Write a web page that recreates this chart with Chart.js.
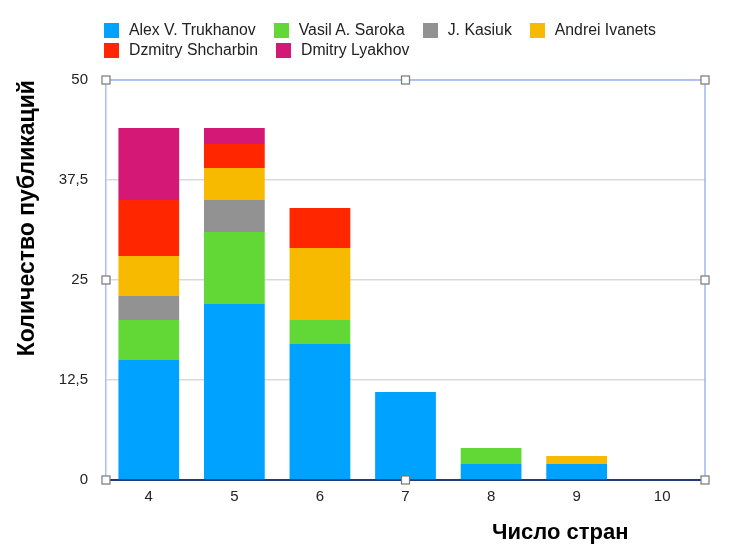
<!DOCTYPE html>
<html>
<head>
<meta charset="utf-8">
<script src="https://cdn.jsdelivr.net/npm/chart.js@4.4.0/dist/chart.umd.min.js"></script>
<style>
  body { margin: 0; background: #fff; }
  #wrap { position: relative; width: 736px; height: 556px; font-family: "Liberation Sans", Arial, sans-serif; }
  #legenda { position: absolute; left: 104px; top: 20px; width: 600px; display: flex; flex-wrap: wrap; }
  .item { display: flex; align-items: center; height: 20px; margin-right: 18px; font-size: 15.8px; color: #222; white-space: nowrap; }
  .item span.caixa { width: 15px; height: 15px; margin-right: 10px; }
  #titulo-x { position: absolute; left: 492px; top: 519px; font-size: 22px; font-weight: bold; line-height: 26px; color: #000; }
</style>
</head>
<body>
<div id="wrap">
  <canvas id="grafico-paises" width="736" height="556"></canvas>
  <div id="legenda"></div>
  <div id="titulo-x">Число стран</div>
</div>
<script>
// Categorias (número de países) e valores por autor
const paises = ['4', '5', '6', '7', '8', '9', '10'];
const autores = ['Alex V. Trukhanov', 'Vasil A. Saroka', 'J. Kasiuk', 'Andrei Ivanets', 'Dzmitry Shcharbin', 'Dmitry Lyakhov'];
const trukhanov = [15, 22, 17, 11, 2, 2, 0];
const saroka = [5, 9, 3, 0, 2, 0, 0];
const kasiuk = [3, 4, 0, 0, 0, 0, 0];
const ivanets = [5, 4, 9, 0, 0, 1, 0];
const shcharbin = [7, 3, 5, 0, 0, 0, 0];
const lyakhov = [9, 2, 0, 0, 0, 0, 0];
const ticksY = ['0', '12,5', '25', '37,5', '50']; // rótulos do eixo Y (vírgula decimal)

const cores = ['#00A2FF', '#61D836', '#929292', '#F8BA00', '#FF2600', '#D31876'];
const series = [trukhanov, saroka, kasiuk, ivanets, shcharbin, lyakhov];

// Moldura azul e "alças" de seleção em volta da área do gráfico
const moldura = {
  id: 'moldura',
  afterDraw(chart) {
    const { ctx, chartArea: a } = chart;
    ctx.save();
    ctx.strokeStyle = '#9DB8F5';
    ctx.lineWidth = 1.5;
    ctx.beginPath();
    ctx.moveTo(a.left, a.top);
    ctx.lineTo(a.right, a.top);
    ctx.lineTo(a.right, a.bottom);
    ctx.stroke();
    const mx = (a.left + a.right) / 2, my = (a.top + a.bottom) / 2;
    const pts = [[a.left, a.top], [mx, a.top], [a.right, a.top], [a.left, my], [a.right, my], [a.left, a.bottom], [mx, a.bottom], [a.right, a.bottom]];
    ctx.fillStyle = '#fff';
    ctx.strokeStyle = '#777';
    ctx.lineWidth = 1.2;
    pts.forEach(([x, y]) => {
      ctx.fillRect(x - 4, y - 4, 8, 8);
      ctx.strokeRect(x - 4, y - 4, 8, 8);
    });
    ctx.restore();
  }
};

const grafico = document.getElementById('grafico-paises');

new Chart(grafico, {
  type: 'bar',
  data: {
    labels: paises,
    datasets: autores.map((nome, i) => ({
      label: nome,
      data: series[i],
      backgroundColor: cores[i],
      borderWidth: 0,
      categoryPercentage: 1,
      barPercentage: 0.71
    }))
  },
  options: {
    responsive: false,
    animation: false,
    layout: { padding: { top: 80, left: 10, right: 31, bottom: 0 } },
    plugins: {
      legend: { display: false },
      tooltip: { enabled: false }
    },
    font: { family: '"Liberation Sans", Arial, sans-serif' },
    scales: {
      x: {
        stacked: true,
        grid: { display: false, drawTicks: false },
        border: { display: true, color: '#22397A', width: 2 },
        ticks: { color: '#222', padding: 8, font: { size: 15 } },
        afterFit: (s) => { s.height = 76; }
      },
      y: {
        stacked: true,
        min: 0,
        max: 50,
        ticks: {
          stepSize: 12.5,
          color: '#222',
          padding: 18,
          font: { size: 15 },
          callback: (v, i) => ticksY[i]
        },
        grid: { color: '#D9D9D9', lineWidth: 1.5, drawTicks: false },
        border: { display: true, color: '#A8C0F7', width: 1.5 },
        title: {
          display: true,
          text: 'Количество публикаций',
          align: 'end',
          color: '#000',
          padding: { top: 4, bottom: 0 },
          font: { size: 23, weight: 'bold' }
        },
        afterFit: (s) => { s.width = 96; }
      }
    }
  },
  plugins: [moldura]
});

// Legenda em HTML (duas linhas, alinhada à esquerda)
const legenda = document.getElementById('legenda');
autores.forEach((nome, i) => {
  const item = document.createElement('div');
  item.className = 'item';
  item.innerHTML = '<span class="caixa" style="background:' + cores[i] + '"></span>' + nome;
  legenda.appendChild(item);
});
</script>
</body>
</html>
